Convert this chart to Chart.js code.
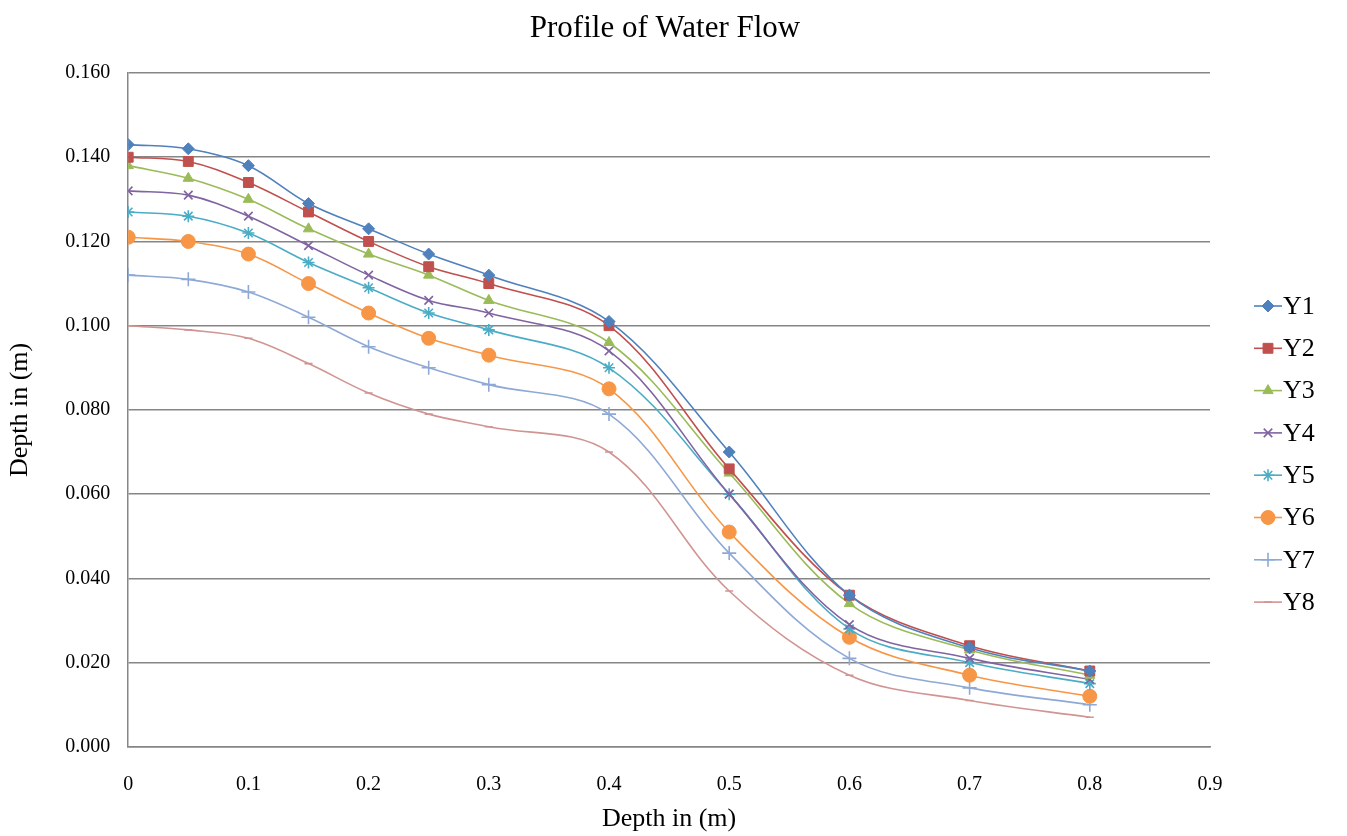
<!DOCTYPE html>
<html>
<head>
<meta charset="utf-8">
<script src="https://cdn.jsdelivr.net/npm/chart.js@4.4.0/dist/chart.umd.min.js"></script>
<style>
  html, body { margin: 0; padding: 0; background: #fff; }
  #wrap { width: 1347px; height: 836px; }
</style>
</head>
<body>
<div id="wrap"><canvas id="grafico"></canvas></div>
<script>
// distancias (eje x)
const distancias = [0, 0.05, 0.1, 0.15, 0.2, 0.25, 0.3, 0.4, 0.5, 0.6, 0.7, 0.8];

// profundidades por serie
const y1 = [0.143, 0.142, 0.138, 0.129, 0.123, 0.117, 0.112, 0.101, 0.070, 0.036, 0.0235, 0.018];
const y2 = [0.140, 0.139, 0.134, 0.127, 0.120, 0.114, 0.110, 0.100, 0.066, 0.036, 0.024, 0.018];
const y3 = [0.138, 0.135, 0.130, 0.123, 0.117, 0.112, 0.106, 0.096, 0.065, 0.034, 0.023, 0.017];
const y4 = [0.132, 0.131, 0.126, 0.119, 0.112, 0.106, 0.103, 0.094, 0.060, 0.029, 0.021, 0.016];
const y5 = [0.127, 0.126, 0.122, 0.115, 0.109, 0.103, 0.099, 0.090, 0.060, 0.028, 0.020, 0.015];
const y6 = [0.121, 0.120, 0.117, 0.110, 0.103, 0.097, 0.093, 0.085, 0.051, 0.026, 0.017, 0.012];
const y7 = [0.112, 0.111, 0.108, 0.102, 0.095, 0.090, 0.086, 0.079, 0.046, 0.021, 0.014, 0.010];
const y8 = [0.100, 0.099, 0.097, 0.091, 0.084, 0.079, 0.076, 0.070, 0.037, 0.017, 0.011, 0.007];

const nombres = ['Y1', 'Y2', 'Y3', 'Y4', 'Y5', 'Y6', 'Y7', 'Y8'];
const colores = ['#4F81BD', '#C0504D', '#9BBB59', '#8064A2', '#4BACC6', '#F79646', '#8EA9D6', '#D09592'];
const marcadores = ['rectRot', 'rect', 'triangle', 'crossRot', 'star', 'circle', 'cross', 'line'];
const radios = [6, 7, 6, 6, 6, 7, 7, 4];
const series = [y1, y2, y3, y4, y5, y6, y7, y8];

const titulo = 'Profile of Water Flow';
const fuente = "'Liberation Serif', 'Times New Roman', serif";

const datasets = series.map((vals, i) => ({
  label: nombres[i],
  data: vals.map((v, k) => ({ x: distancias[k], y: v })),
  borderColor: colores[i],
  backgroundColor: colores[i],
  pointStyle: marcadores[i],
  pointRadius: radios[i],
  pointBorderWidth: ['crossRot', 'star', 'cross', 'line'].includes(marcadores[i]) ? 1.6 : 1,
  borderWidth: 1.6,
  tension: 0.35,
  fill: false
}));

// titulo y leyenda propios: linea + marcador, como en Excel
const leyenda = {
  id: 'leyenda',
  afterDraw(chart) {
    const ctx = chart.ctx;
    ctx.save();
    ctx.fillStyle = '#000';
    ctx.font = "31px " + fuente;
    ctx.textAlign = 'center';
    ctx.textBaseline = 'alphabetic';
    ctx.fillText(titulo, 665, 37);

    const x0 = 1254, yTop = 306, paso = 42.3;
    ctx.textAlign = 'left';
    chart.data.datasets.forEach((ds, i) => {
      const y = yTop + i * paso;
      ctx.strokeStyle = ds.borderColor;
      ctx.lineWidth = 1.6;
      ctx.beginPath();
      ctx.moveTo(x0, y);
      ctx.lineTo(x0 + 28, y);
      ctx.stroke();
      ctx.fillStyle = ds.backgroundColor;
      ctx.lineWidth = ds.pointBorderWidth;
      Chart.helpers.drawPoint(ctx, { pointStyle: ds.pointStyle, radius: ds.pointRadius, rotation: 0, borderWidth: ds.pointBorderWidth }, x0 + 14, y);
      ctx.fillStyle = '#000';
      ctx.font = "26px " + fuente;
      ctx.textBaseline = 'middle';
      ctx.fillText(ds.label, x0 + 29, y + 1);
    });
    ctx.restore();
  }
};

new Chart(document.getElementById('grafico'), {
  type: 'line',
  data: { datasets },
  options: {
    responsive: true,
    maintainAspectRatio: false,
    animation: false,
    layout: { padding: { left: 5, right: 137, top: 73, bottom: 1 } },
    plugins: {
      legend: { display: false },
      tooltip: { enabled: false },
      title: { display: false }
    },
    scales: {
      x: {
        type: 'linear',
        min: 0,
        max: 0.9,
        ticks: {
          stepSize: 0.1,
          color: '#000',
          font: { family: fuente, size: 20 },
          padding: 26,
          callback: v => (Math.abs(v) < 1e-9 ? '0' : v.toFixed(1))
        },
        grid: { display: false, drawTicks: false },
        border: { color: '#868686', width: 1.5 },
        title: {
          display: true,
          text: 'Depth in (m)',
          color: '#000',
          font: { family: fuente, size: 26 },
          padding: { top: -19, bottom: 0 }
        }
      },
      y: {
        min: 0,
        max: 0.16,
        ticks: {
          stepSize: 0.02,
          color: '#000',
          font: { family: fuente, size: 20 },
          padding: 18,
          callback: v => v.toFixed(3)
        },
        grid: { color: '#868686', lineWidth: 1.5, drawTicks: false },
        border: { color: '#868686', width: 1.5 },
        title: {
          display: true,
          text: 'Depth in (m)',
          color: '#000',
          font: { family: fuente, size: 26 },
          padding: { top: 0, bottom: 11 }
        }
      }
    }
  },
  plugins: [leyenda]
});
</script>
</body>
</html>
